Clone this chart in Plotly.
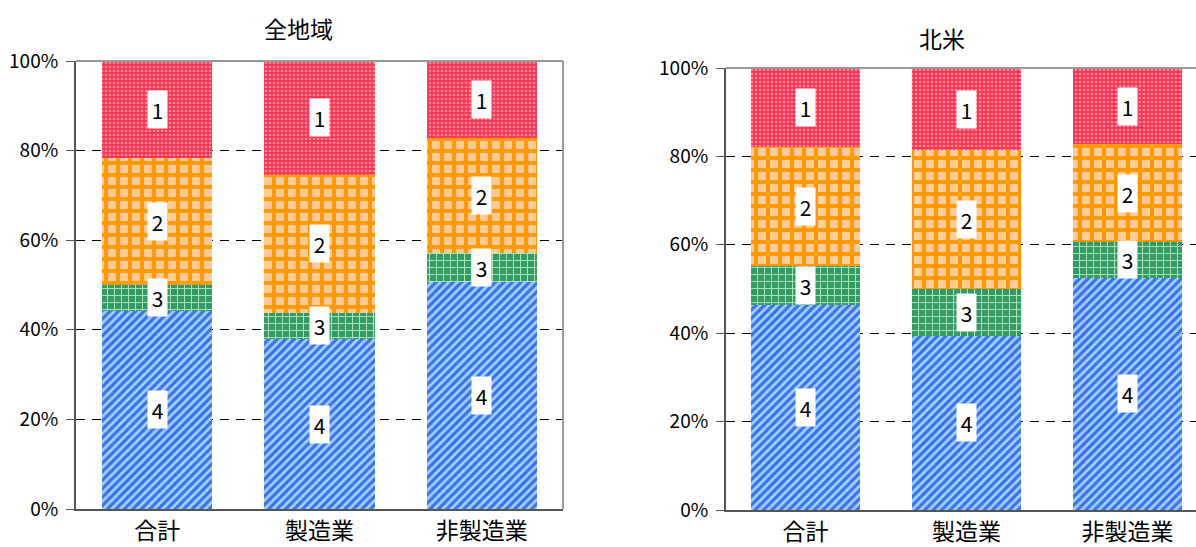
import plotly.graph_objects as go

categories = ["合計", "製造業", "非製造業"]
series_names = ["4", "3", "2", "1"]  # stacked bottom to top

# 全地域 (shares in %)
all_s4 = [44.2, 37.9, 50.7]
all_s3 = [5.8, 5.9, 6.4]
all_s2 = [28.3, 30.8, 25.8]
all_s1 = [21.7, 25.4, 17.1]

# 北米 (shares in %)
na_s4 = [46.4, 39.4, 52.6]
na_s3 = [8.9, 10.5, 8.0]
na_s2 = [26.9, 31.5, 22.2]
na_s1 = [17.8, 18.6, 17.2]

titles = ["全地域", "北米"]
tick_vals = [0, 20, 40, 60, 80, 100]
tick_text = ["0%", "20%", "40%", "60%", "80%", "100%"]

FONT = "Noto Sans CJK JP"

patterns = {
    "4": dict(shape="/", bgcolor="#3a73ee", fgcolor="#a6d2ff", size=6, solidity=0.45, fillmode="replace"),
    "3": dict(shape="+", bgcolor="#339966", fgcolor="#a8e6b0", size=7, solidity=0.28, fillmode="replace"),
    "2": dict(shape="+", bgcolor="#ffcc99", fgcolor="#ff9900", size=12, solidity=0.55, fillmode="replace"),
    "1": dict(shape=".", bgcolor="#ff3355", fgcolor="#ff8a99", size=4, solidity=0.35, fillmode="replace"),
}
base_colors = {"4": "#3a73ee", "3": "#339966", "2": "#ff9900", "1": "#ff3355"}

fig = go.Figure()
annotations = []

for panel, (data, xa, ya) in enumerate([
    ([all_s4, all_s3, all_s2, all_s1], "x", "y"),
    ([na_s4, na_s3, na_s2, na_s1], "x2", "y2"),
]):
    cum = [0.0, 0.0, 0.0]
    for name, vals in zip(series_names, data):
        fig.add_trace(go.Bar(
            x=list(range(len(categories))), y=vals, name=name,
            xaxis=xa, yaxis=ya, width=0.678,
            marker=dict(color=base_colors[name], line=dict(width=0), pattern=patterns[name]),
            showlegend=False, hoverinfo="skip",
        ))
        for i, v in enumerate(vals):
            annotations.append(dict(
                x=i, y=cum[i] + v / 2, xref=xa, yref=ya, text=name, showarrow=False,
                font=dict(family=FONT, size=21, color="black"),
                bgcolor="white", width=19, height=37, borderpad=0,
            ))
            cum[i] += v

fig.update_layout(barmode="stack")

annotations.append(dict(x=298 / 1196, y=(547 - 28) / 547, xref="paper", yref="paper",
                        xanchor="center", yanchor="middle",
                        text=titles[0], showarrow=False, font=dict(family=FONT, size=23, color="black")))
annotations.append(dict(x=942 / 1196, y=(547 - 38) / 547, xref="paper", yref="paper",
                        xanchor="center", yanchor="middle",
                        text=titles[1], showarrow=False, font=dict(family=FONT, size=23, color="black")))

common_y = dict(
    range=[0, 100], tickvals=tick_vals, ticktext=tick_text,
    showgrid=True, gridcolor="black", gridwidth=1, griddash="9px,7px",
    showline=True, linecolor="#555555", linewidth=2,
    ticks="outside", ticklen=8, tickcolor="#555555", tickwidth=1,
    tickfont=dict(family=FONT, size=19, color="black"), zeroline=False,
    ticklabelstandoff=4, automargin=False, fixedrange=True,
)
common_x = dict(
    tickvals=[0, 1, 2], ticktext=categories, showgrid=False,
    showline=True, linecolor="#555555", linewidth=2, ticks="",
    tickfont=dict(family=FONT, size=23, color="black"), zeroline=False,
    automargin=False,
)

fig.update_layout(
    width=1196, height=547, margin=dict(l=0, r=0, t=0, b=0, autoexpand=False),
    paper_bgcolor="white", plot_bgcolor="white",
    xaxis=dict(domain=[76 / 1196, 563 / 1196], range=[-0.5, 2.5], anchor="y", **common_x),
    yaxis=dict(domain=[(547 - 509) / 547, (547 - 61) / 547], anchor="x", **common_y),
    xaxis2=dict(domain=[726 / 1196, 1.0], range=[-0.494, 2.425], anchor="y2", **common_x),
    yaxis2=dict(domain=[(547 - 510) / 547, (547 - 68) / 547], anchor="x2", **common_y),
    annotations=annotations,
    shapes=[
        dict(type="line", xref="x domain", yref="y domain", x0=0, x1=1, y0=1, y1=1,
             line=dict(color="#999999", width=2), layer="above"),
        dict(type="line", xref="x domain", yref="y domain", x0=1, x1=1, y0=0, y1=1,
             line=dict(color="#999999", width=2), layer="above"),
        dict(type="line", xref="x2 domain", yref="y2 domain", x0=0, x1=1, y0=1, y1=1,
             line=dict(color="#999999", width=2), layer="above"),
    ],
)

fig.write_html("out.html")
